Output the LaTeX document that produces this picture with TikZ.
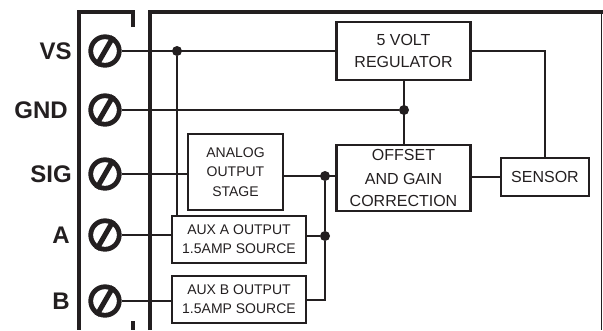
\documentclass[tikz,border=0pt]{standalone}
\usepackage{fontspec}
\setmainfont{Liberation Sans}
\definecolor{ink}{HTML}{231F20}
\newcommand{\blk}[6]{\node[blk,minimum width=#4*.75pt,minimum height=#5*.75pt] (#1) at (#2,#3) {#6};}
\tikzset{
  blk/.style={draw=ink,line width=1.9pt,inner sep=0pt,align=center,text=ink,font=\fontsize{12}{16}\selectfont},
  aux/.style={font=\fontsize{10.5}{14.5}\selectfont},
  wire/.style={draw=ink,line width=1.5pt},
  heavy/.style={draw=ink,line width=3.4pt},
  dot/.style={fill=ink,circle,inner sep=0pt,minimum size=7.5pt},
  screw/.style={draw=ink,circle,line width=3.6pt,inner sep=0pt,minimum size=21.4pt},
  pin/.style={text=ink,inner sep=0pt,font=\fontsize{18}{20}\selectfont\bfseries,anchor=east}
}
\begin{document}
\begin{tikzpicture}[x=.75pt,y=-.75pt]
  \useasboundingbox (0,0) rectangle (603,330);
  % terminal strip and case
  \coordinate (stripa) at (133,27);
  \coordinate (stripb) at (133,12);
  \coordinate (stripc) at (79,12);
  \coordinate (stripd) at (79,330);
  \coordinate (stripe) at (133,321);
  \coordinate (stripf) at (133,330);
  \coordinate (casea) at (150,330);
  \coordinate (caseb) at (150,12);
  \coordinate (casec) at (603,12);
  \coordinate (cased) at (601,12);
  \coordinate (casee) at (601,330);
  \draw[heavy] (stripa) -- (stripb) -- (stripc) -- (stripd);
  \draw[heavy] (stripe) -- (stripf);
  \draw[heavy] (casea) -- (caseb) -- (casec);
  \draw[draw=ink,line width=.5pt] (cased) -- (casee);

  % screws with their labels
  \foreach \name/\txt/\y/\lx in {vs/VS/51/72,gnd/GND/110/68,sig/SIG/174/72,a/A/235/70,b/B/301/70}{
    \node[screw] (\name) at (105,\y) {};
    \draw[draw=ink,line width=3.8pt] (\name.240) -- (\name.60);
    \node[pin] (\name lbl) at (\lx,\y) {\txt};
  }

  % blocks
  \blk{reg}{403.5}{51}{134}{58}{5 VOLT\\REGULATOR}
  \blk{off}{403.5}{178}{134}{66}{\raisebox{2pt}{OFFSET}\\AND GAIN\\CORRECTION}
  \blk{sensor}{545}{177}{88}{38}{SENSOR}
  \node[blk,aux,minimum width=95*.75pt,minimum height=76*.75pt] (ana) at (235.5,172) {ANALOG\\OUTPUT\\STAGE};
  \node[blk,aux,minimum width=134*.75pt,minimum height=47*.75pt] (auxa) at (239,239.5) {AUX A OUTPUT\\1.5AMP SOURCE};
  \node[blk,aux,minimum width=134*.75pt,minimum height=47*.75pt] (auxb) at (239,299.5) {AUX B OUTPUT\\1.5AMP SOURCE};

  % junctions
  \node[dot] (ja) at (177,51) {};
  \node[dot] (jb) at (404,110) {};
  \node[dot] (jc) at (325,176) {};
  \node[dot] (jd) at (325,236) {};

  % wires
  \draw[wire] (vs.east) -- (reg.west);
  \draw[wire] (ja) -- (ja |- auxa.north);
  \draw[wire] (gnd.east) -- (jb);
  \draw[wire] (reg.south) -- (off.north);
  \draw[wire] (reg.east) -| (sensor.north);
  \draw[wire] (sig.east) -- (sig.east -| ana.west);
  \draw[wire] (ana.east |- jc) -- (off.west |- jc);
  \draw[wire] (off.east |- sensor.west) -- (sensor.west);
  \draw[wire] (a.east) -- (a.east -| auxa.west);
  \draw[wire] (b.east) -- (b.east -| auxb.west);
  \draw[wire] (auxa.east |- jd) -- (jd);
  \draw[wire] (jc) -- (jd) |- (auxb.east);
\end{tikzpicture}
\end{document}
